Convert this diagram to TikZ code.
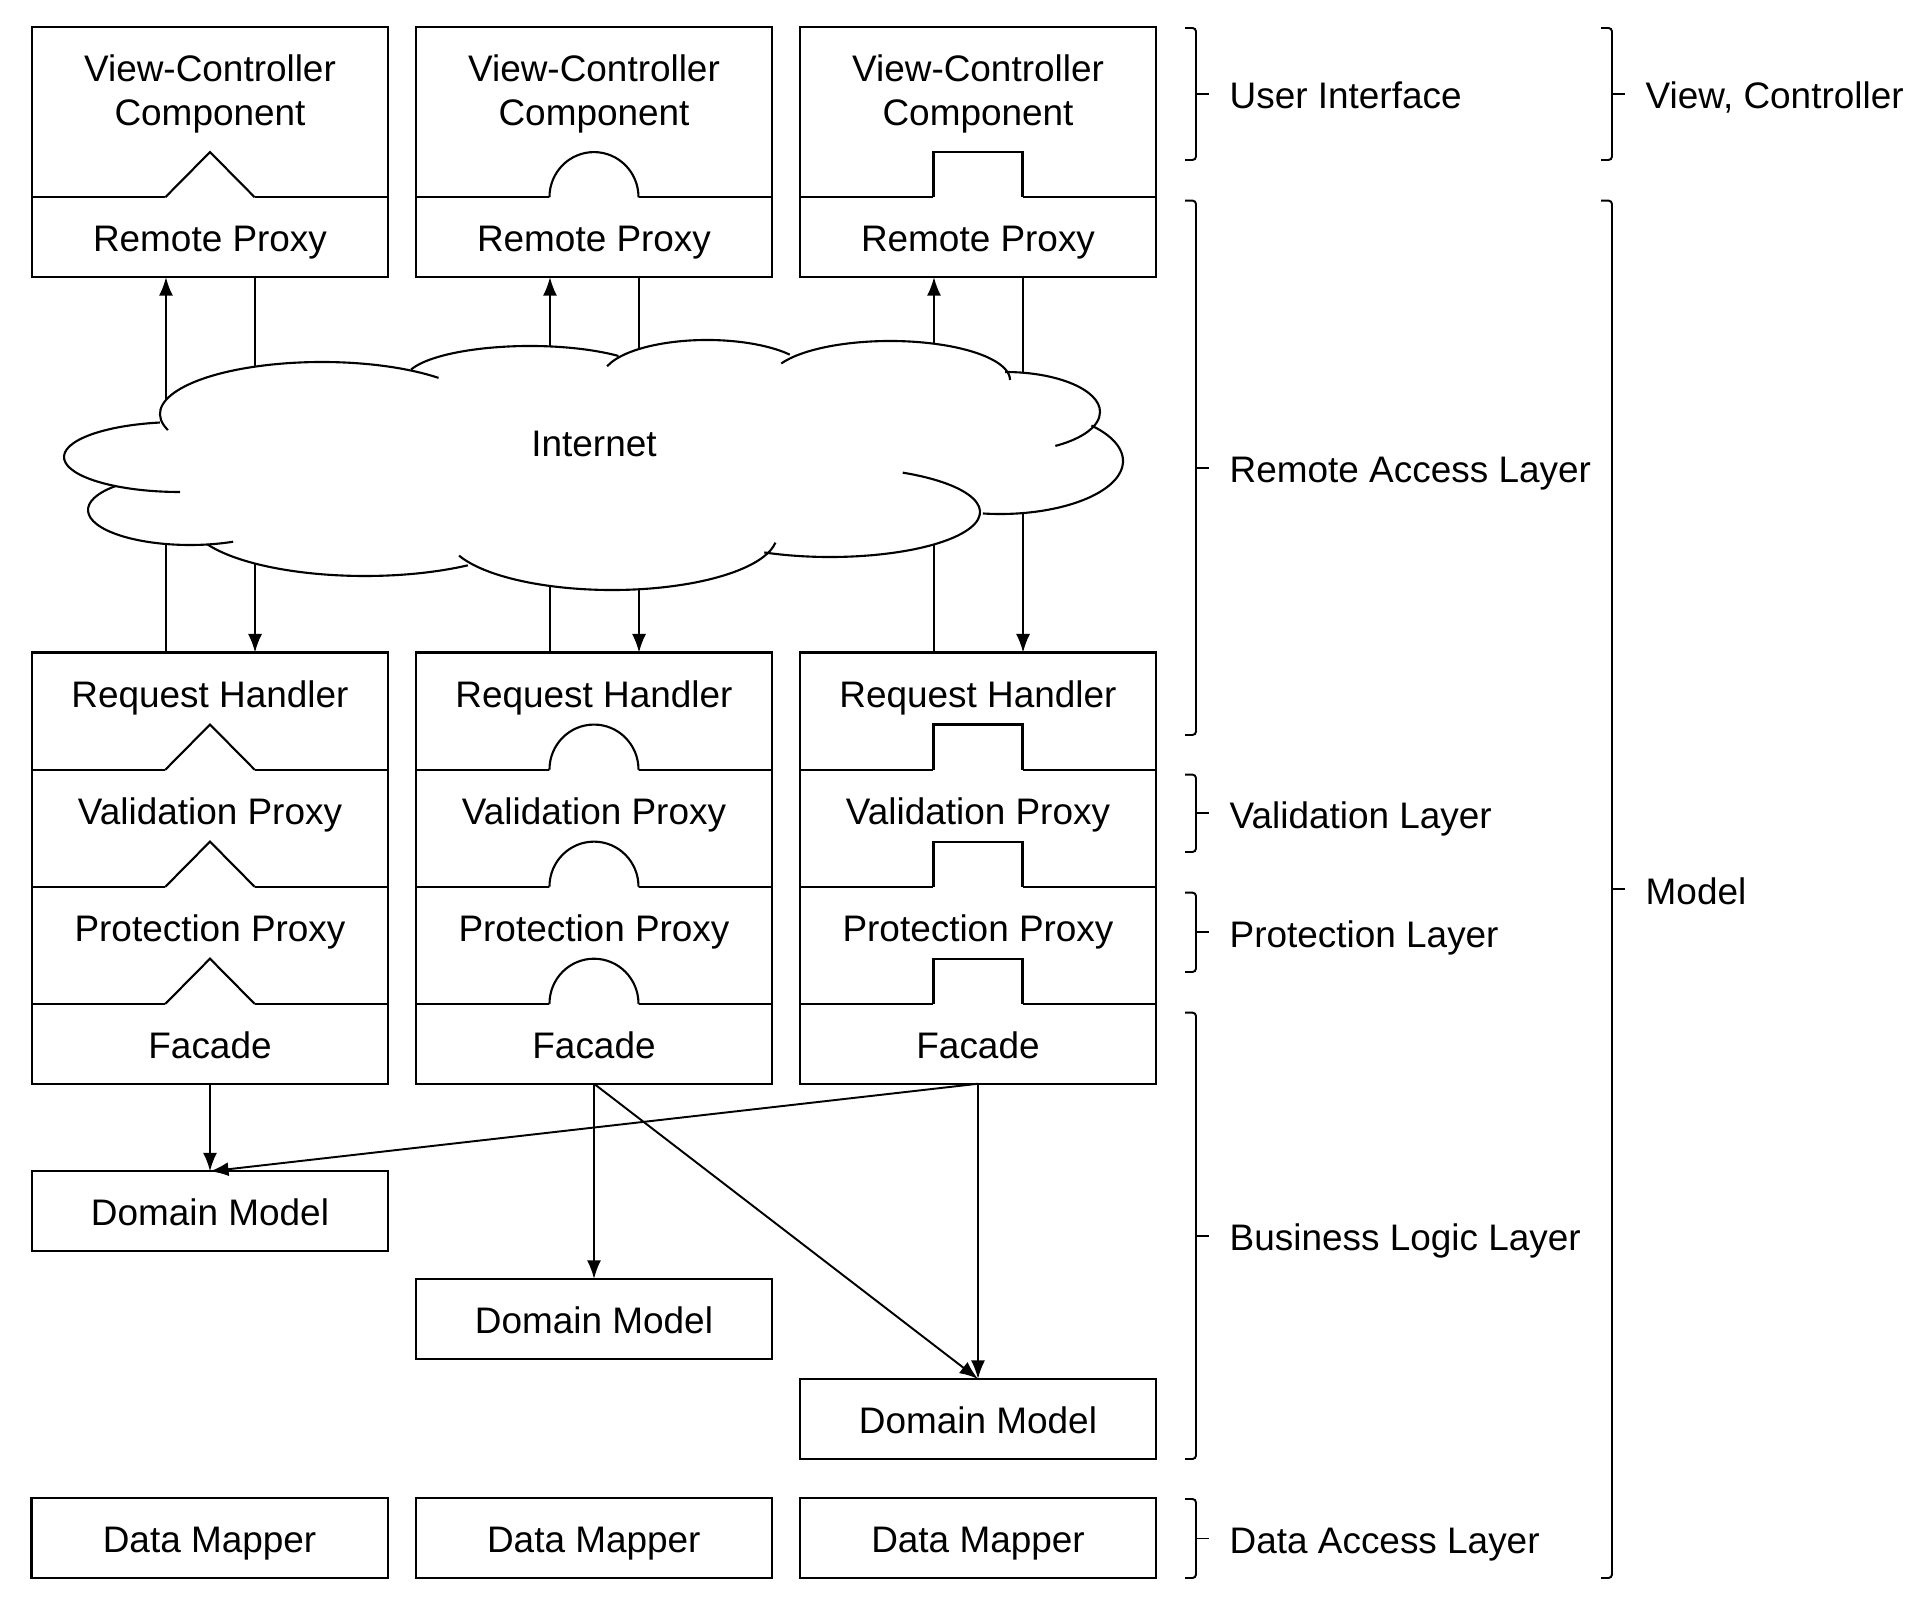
\documentclass[tikz,border=0pt]{standalone}
\usepackage{fontspec}
\setmainfont{Liberation Sans}
\usetikzlibrary{positioning}
\usetikzlibrary{arrows.meta}

\begin{document}
\begin{tikzpicture}[x=0.01cm,y=-0.01cm]
    \tikzstyle{every node}=[font=\fontsize{10.5}{12.5}\selectfont]
    \tikzstyle{box}=[draw=black,line width=0.6pt,minimum width=3.56cm,inner ysep=0pt,outer sep=0pt,text height=5.45mm,align=center]
    \tikzstyle{lowbox}=[box,text depth=2.55mm]
    \tikzstyle{midbox}=[box,text depth=6.25mm]
    \tikzstyle{highbox}=[box,text height=9.85mm,text depth=7.15mm]
    \tikzstyle{link}=[draw=black,line width=0.55pt,-{Latex[length=1.85mm,width=1.4mm]}]
    \tikzstyle{plugline}=[draw=black,line width=0.6pt]
    \tikzstyle{cloudline}=[draw=black,line width=0.6pt]
    \tikzstyle{bracket}=[draw=black,line width=0.55pt]

    \useasboundingbox (0,0) rectangle (1931,1613);

    \newcommand{\wedgeplug}[1]{%
      \fill[white] ([xshift=-4.45mm,yshift=-0.5pt]#1.north) -- ([xshift=-4.45mm]#1.north) -- ([yshift=4.5mm]#1.north) -- ([xshift=4.45mm]#1.north) -- ([xshift=4.45mm,yshift=-0.5pt]#1.north) -- cycle;
      \draw[plugline] ([xshift=-4.45mm]#1.north) -- ([yshift=4.5mm]#1.north) -- ([xshift=4.45mm]#1.north);}
    \newcommand{\archplug}[1]{%
      \fill[white] ([xshift=-4.45mm,yshift=-0.5pt]#1.north) -- ([xshift=-4.45mm]#1.north) arc[start angle=180,end angle=360,x radius=44.5,y radius=45] -- ([xshift=4.45mm,yshift=-0.5pt]#1.north) -- cycle;
      \draw[plugline] ([xshift=-4.45mm]#1.north) arc[start angle=180,end angle=360,x radius=44.5,y radius=45];}
    \newcommand{\notchplug}[1]{%
      \fill[white] ([xshift=-4.45mm,yshift=-0.5pt]#1.north) -- ([xshift=-4.45mm,yshift=4.5mm]#1.north) -- ([xshift=4.45mm,yshift=4.5mm]#1.north) -- ([xshift=4.45mm,yshift=-0.5pt]#1.north) -- cycle;
      \draw[plugline] ([xshift=-4.45mm]#1.north) -- ([xshift=-4.45mm,yshift=4.5mm]#1.north) -- ([xshift=4.45mm,yshift=4.5mm]#1.north) -- ([xshift=4.45mm]#1.north);}

    % the three stacks
    \foreach \col/\cx/\plug in {1/210/\wedgeplug,2/594/\archplug,3/978/\notchplug}{
      \node[highbox,anchor=north] (vc\col) at (\cx,27) {View-Controller\\Component};
      \node[lowbox,below=0pt of vc\col] (rp\col) {Remote Proxy};
      \node[midbox,anchor=north] (rh\col) at (\cx,652.5) {Request Handler};
      \node[midbox,below=0pt of rh\col] (vp\col) {Validation Proxy};
      \node[midbox,below=0pt of vp\col] (pp\col) {Protection Proxy};
      \node[lowbox,below=0pt of pp\col] (fa\col) {Facade};
      \plug{rp\col} \plug{vp\col} \plug{pp\col} \plug{fa\col}
      \draw[link] ([xshift=-4.4mm]rh\col.north) -- ([xshift=-4.4mm]rp\col.south);
      \draw[link] ([xshift=4.5mm]rp\col.south) -- ([xshift=4.5mm]rh\col.north);
    }

    \node[lowbox,below=8.75mm of fa1] (dm1) {Domain Model};
    \node[lowbox,below=19.5mm of fa2] (dm2) {Domain Model};
    \node[lowbox,below=29.5mm of fa3] (dm3) {Domain Model};
    \node[lowbox,below=3.9mm of dm3] (map3) {Data Mapper};
    \node[lowbox,left=2.8mm of map3] (map2) {Data Mapper};
    \node[lowbox,left=2.8mm of map2] (map1) {Data Mapper};

    % internet cloud over the request lines
    \foreach \cx/\cy/\rx/\ry in {180/457/116/35,190/510/102/35,365/520/175/56,612/535/165/55,830/512/150/45,1000/461/123/53,1005/412/95/40,890/380/120/39,707/378/105/38,530/380/125/34,322/414/162/52}
      \fill[white] (\cx,\cy) ellipse[x radius=\rx,y radius=\ry];
    \fill[white] (180,457) -- (190,510) -- (365,520) -- (612,535) -- (830,512) -- (1000,461) -- (1005,412) -- (890,380) -- (707,378) -- (530,380) -- (322,414) -- cycle;
    \foreach \cx/\cy/\rx/\ry/\sa/\ea in {180/457/116/35/260/90,190/510/102/35/223/65,365/520/175/56/154/54,612/535/165/55/158/8,830/512/150/45/116/-61,1000/461/123/53/98/-42,1005/412/95/40/-90/58,890/380/120/39/205/360,707/378/105/38/198/322,530/380/125/34/198/315,322/414/162/52/162/316}
      \draw[cloudline] (\cx,\cy) ++({\rx*cos(\sa)},{\ry*sin(\sa)}) arc[start angle=\sa,end angle=\ea,x radius=\rx,y radius=\ry];
    \node (net) at (594,444) {Internet};

    \draw[link] (fa1) -- (dm1);
    \draw[link] (fa3.south) -- (dm1.north);
    \draw[link] (fa2) -- (dm2);
    \draw[link] (fa2.south) -- (dm3.north);
    \draw[link] (fa3) -- (dm3);

    % layer brackets
    \newcommand{\layerbrace}[5]{%
      \draw[bracket,rounded corners=1pt] (#2-11,#3) -- (#2,#3) -- (#2,#4) -- (#2-11,#4);
      \draw[bracket] (#2,{(#3+#4)/2}) -- (#2+13,{(#3+#4)/2});
      \node[anchor=base west,inner sep=0pt] (#1) at (#2+33,{(#3+#4)/2+15}) {#5};}
    \layerbrace{ui}{1196}{28}{160}{User Interface}
    \layerbrace{ral}{1196}{200.6}{735}{Remote Access Layer}
    \layerbrace{val}{1196}{774.6}{852}{Validation Layer}
    \layerbrace{prl}{1196}{892.6}{972}{Protection Layer}
    \layerbrace{bll}{1196}{1012.6}{1459}{Business Logic Layer}
    \layerbrace{dal}{1196}{1499}{1578}{Data Access Layer}
    \layerbrace{vcl}{1612}{28}{160}{View, Controller}
    \layerbrace{mdl}{1612}{200.6}{1578}{Model}
\end{tikzpicture}
\end{document}
